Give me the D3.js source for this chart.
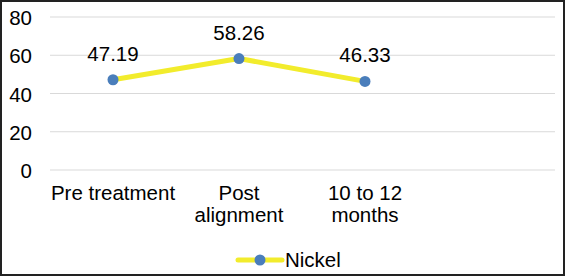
<!DOCTYPE html>
<html>
<head>
<meta charset="utf-8">
<script src="https://cdn.jsdelivr.net/npm/d3@7"></script>
<style>
  body { margin: 0; background: #fff; }
  svg { display: block; font-family: "Liberation Sans", Arial, sans-serif; }
</style>
</head>
<body>
<svg id="chart" width="566" height="277"></svg>
<script>
// categories (4th slot left empty like the original chart)
const categories = ["Pre treatment", "Post alignment", "10 to 12 months", ""];
const labelLines = [["Pre treatment"], ["Post", "alignment"], ["10 to 12", "months"], []];
const nickel = [47.19, 58.26, 46.33];
const yTicks = [0, 20, 40, 60, 80];
const seriesName = "Nickel";

const svg = d3.select("#chart");
const W = 566, H = 277;
const fs = "20.5px";

// outer border
svg.append("rect")
    .attr("x", 1).attr("y", 1)
    .attr("width", W - 3).attr("height", H - 3)
    .attr("fill", "#fff")
    .attr("stroke", "#222")
    .attr("stroke-width", 2);

const x = d3.scaleBand().domain(categories).range([50, 554]);
const y = d3.scaleLinear().domain([0, 80]).range([170, 17]);

// gridlines
svg.append("g")
    .selectAll("line")
    .data(yTicks)
    .join("line")
    .attr("x1", 50).attr("x2", 555)
    .attr("y1", d => y(d)).attr("y2", d => y(d))
    .style("stroke", "#d9d9d9")
    .attr("stroke-width", 1);

// y axis labels
const yAxis = d3.axisLeft(y).tickValues(yTicks).tickSize(0).tickPadding(0);
const ya = svg.append("g").attr("transform", "translate(32,1)").call(yAxis);
ya.select(".domain").remove();
ya.selectAll("text")
    .style("font-size", fs)
    .style("fill", "#000")
    .style("font-family", "Liberation Sans, Arial, sans-serif");

// category labels
const cat = svg.append("g");
categories.forEach((c, i) => {
    const t = cat.append("text")
        .attr("x", x(c) + x.bandwidth() / 2)
        .attr("y", 200)
        .style("text-anchor", "middle")
        .style("font-size", fs)
        .style("fill", "#000");
    labelLines[i].forEach((l, j) => {
        t.append("tspan")
            .attr("x", x(c) + x.bandwidth() / 2)
            .attr("dy", j === 0 ? 0 : 22)
            .text(l);
    });
});

const pts = nickel.map((v, i) => ({ cat: categories[i], v: v }));
const cx = d => x(d.cat) + x.bandwidth() / 2;

const line = d3.line()
    .x(d => cx(d))
    .y(d => y(d.v));

svg.append("path")
    .datum(pts)
    .attr("d", line)
    .attr("fill", "none")
    .style("stroke", "#f2ec2c")
    .attr("stroke-width", 5)
    .attr("stroke-linejoin", "round");

svg.append("g")
    .selectAll("circle")
    .data(pts)
    .join("circle")
    .attr("cx", cx)
    .attr("cy", d => y(d.v))
    .attr("r", 5.5)
    .attr("fill", "#4a7ebb");

// data labels
svg.append("g")
    .selectAll("text")
    .data(pts)
    .join("text")
    .attr("x", cx)
    .attr("y", d => y(d.v) - 19)
    .style("text-anchor", "middle")
    .style("font-size", fs)
    .style("fill", "#000")
    .text(d => d.v.toFixed(2));

// legend
const lg = svg.append("g").attr("transform", "translate(238,260)");
lg.append("line")
    .attr("x1", 0).attr("x2", 44)
    .attr("y1", 0).attr("y2", 0)
    .style("stroke", "#f2ec2c")
    .attr("stroke-width", 5)
    .attr("stroke-linecap", "round");
lg.append("circle")
    .attr("cx", 22).attr("cy", 0).attr("r", 5.5)
    .attr("fill", "#4a7ebb");
lg.append("text")
    .attr("x", 47).attr("y", 7)
    .style("font-size", fs)
    .style("fill", "#000")
    .text(seriesName);
</script>
</body>
</html>
